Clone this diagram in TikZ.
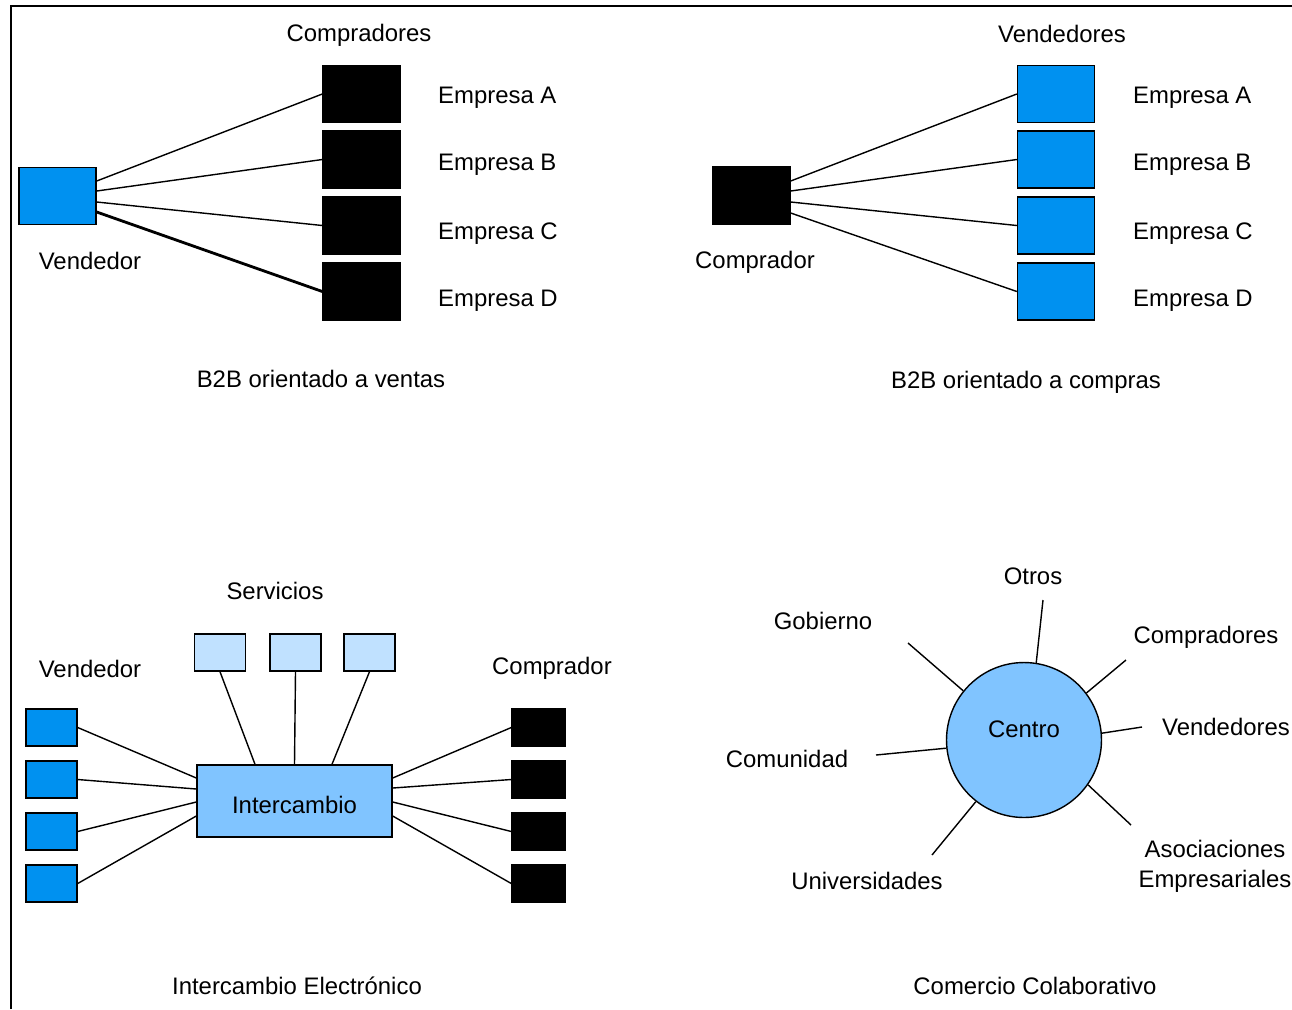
\documentclass[tikz,border=0pt]{standalone}
\usepackage{fontspec}
\setmainfont{Liberation Sans}
\usepackage{xcolor}
\usepackage{tikz}
\usetikzlibrary{arrows}

\definecolor{azul}{RGB}{0,145,240}
\definecolor{celeste}{RGB}{128,196,255}
\definecolor{palido}{RGB}{192,225,255}

\begin{document}
\begin{tikzpicture}[x=0.02cm,y=-0.02cm,
  every node/.style={font=\fontsize{13.6}{16}\selectfont},
  caja/.style={draw,line width=0.8pt,inner sep=0pt,minimum width=1.54cm,minimum height=1.14cm},
  cajita/.style={draw,line width=0.8pt,inner sep=0pt,minimum width=1.02cm,minimum height=0.74cm},
  linea/.style={line width=0.8pt}]
  \useasboundingbox (0,0) rectangle (1292,1009);
  % frame
  \draw[line width=1pt] (11,1009)--(11,6)--(1292,6);

  % B2B orientado a ventas
  \node[caja,fill=azul] (vend) at (57.5,196) {};
  \path (90,261) node (vendLbl) {Vendedor};
  \path (359,35) node (compLbl) {Compradores};
  \foreach \n/\y/\ty/\off/\w in {A/94/98/0.3/0.8pt,
    B/159.5/165/0.1/0.8pt,
    C/225.5/234/-0.12/0.8pt,
    D/291.5/301/-0.32/1.6pt}
  {
    \node[caja,fill=black] (c\n) at (361.5,\y) {};
    \path (432,\ty) node[anchor=west] (cl\n) {Empresa \n};
    \draw[line width=\w] ([yshift=\off cm]vend.east) -- (c\n.west);
  }
  \path (321,379) node (capVentas) {B2B orientado a ventas};

  % B2B orientado a compras
  \node[caja,fill=black] (comp) at (751.5,195.5) {};
  \path (755,262) node (compLbl2) {Comprador};
  \path (1062,34) node (vendLbl2) {Vendedores};
  \foreach \n/\y/\ty/\off in {A/94/98/0.29,
    B/159.5/165/0.09,
    C/225.5/234/-0.13,
    D/291.5/301/-0.35}
  {
    \node[caja,fill=azul] (v\n) at (1056,\y) {};
    \path (1127,\ty) node[anchor=west] (vl\n) {Empresa \n};
    \draw[linea] ([yshift=\off cm]comp.east) -- (v\n.west);
  }
  \path (1026,382) node (capCompras) {B2B orientado a compras};

  % Intercambio electronico
  \node[draw,line width=0.8pt,fill=celeste,minimum width=3.9cm,minimum height=1.44cm,
    text height=0.51cm,text depth=0cm] (inter) at (294.5,801) {Intercambio};
  \path (275,591) node (servLbl) {Servicios};
  \path (90,669) node (vendLbl3) {Vendedor};
  \path (552,668) node (compLbl3) {Comprador};
  \foreach \i/\x/\dx in {1/220/-0.79, 2/295.5/0, 3/369.5/0.75}
  {
    \node[cajita,fill=palido] (s\i) at (\x,652.5) {};
    \draw[linea] (s\i.south) -- ([xshift=\dx cm]inter.north);
  }
  \foreach \i/\y/\lo/\ro in {1/727.5/0.46/0.46,
    2/779.5/0.24/0.26,
    3/831.5/-0.02/-0.02,
    4/883.5/-0.3/-0.3}
  {
    \node[cajita,fill=azul] (bv\i) at (51.5,\y) {};
    \node[cajita,fill=black,minimum width=1.06cm] (bc\i) at (538.5,\y) {};
    \draw[linea] (bv\i.east) -- ([yshift=\lo cm]inter.west);
    \draw[linea] ([yshift=\ro cm]inter.east) -- (bc\i.west);
  }
  \path (297,986) node (capInter) {Intercambio Electrónico};

  % Comercio colaborativo
  \node[circle,draw,line width=0.8pt,fill=celeste,minimum size=3.1cm,inner sep=0pt,
    label={[name=centroTxt,yshift=0.22cm]center:Centro}] (centro) at (1024,740) {};
  \foreach \nm/\ang/\px/\py in {otros/81/1043/600,
    gobierno/141/908/643,
    compradores/37/1126/660,
    vendedores/5/1142/727,
    comunidad/186/876/755,
    universidades/232/932/855,
    asociaciones/325/1131/825}
  {
    \coordinate (\nm) at (\px,\py);
    \draw[linea] (centro.\ang) -- (\nm);
  }
  \path (1033,576) node (otrosLbl) {Otros};
  \path (823,621) node (gobLbl) {Gobierno};
  \path (1206,637) node (compLbl4) {Compradores};
  \path (1226,727) node (vendLbl4) {Vendedores};
  \path (787,759) node (comLbl) {Comunidad};
  \path (867,881) node (uniLbl) {Universidades};
  \path (1215,866) node[align=center] (asocLbl) {Asociaciones\\[1pt]Empresariales};
  \path (1035,986) node (capColab) {Comercio Colaborativo};
\end{tikzpicture}
\end{document}
